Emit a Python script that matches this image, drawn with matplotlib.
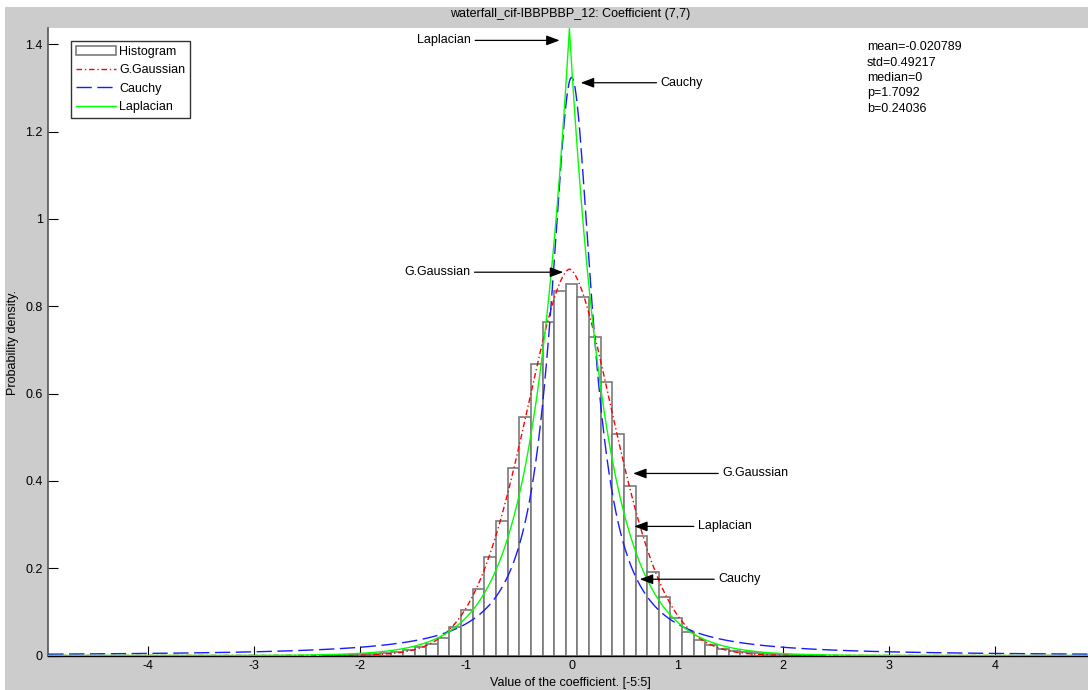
import numpy as np
import matplotlib
matplotlib.use("Agg")
import matplotlib.pyplot as plt
from matplotlib.patches import Rectangle
from math import gamma, sqrt, pi

plt.rcParams['font.family'] = ['Liberation Sans', 'DejaVu Sans']

# ---- data -------------------------------------------------------------
title = "waterfall_cif-IBBPBBP_12: Coefficient (7,7)"
x_label = "Value of the coefficient. [-5:5]"
y_label = "Probability density."

# sample statistics and fitted parameters
MEAN = -0.020789
STD = 0.49217
MEDIAN = 0
P_SHAPE = 1.7092
B_SCALE = 0.24036

# histogram: 91 bins over [-5, 5], only the non-empty ones listed
N_BINS = 91
hist_k = list(range(-21, 22))
hist_heights = [
    0.0005, 0.001, 0.002, 0.003, 0.0045, 0.006, 0.0085, 0.0115, 0.0185, 0.026,
    0.039, 0.065, 0.105, 0.153, 0.225, 0.309, 0.429, 0.546, 0.668, 0.765,
    0.834, 0.852, 0.822, 0.730, 0.627, 0.508, 0.388, 0.274, 0.192, 0.135,
    0.086, 0.054, 0.036, 0.0235, 0.0144, 0.0095, 0.0075, 0.0058, 0.004, 0.003,
    0.002, 0.001, 0.0005,
]

x_ticks = [-4, -3, -2, -1, 0, 1, 2, 3, 4]
y_ticks = [0, 0.2, 0.4, 0.6, 0.8, 1.0, 1.2, 1.4]

# annotation labels: (text, arrow tip (x, y), text anchor x, side)
annotations = [
    ("Laplacian", (-0.113, 1.409), -0.950, "left"),
    ("Cauchy", (0.086, 1.312), 0.842, "right"),
    ("G.Gaussian", (-0.079, 0.878), -0.957, "left"),
    ("G.Gaussian", (0.581, 0.417), 1.425, "right"),
    ("Laplacian", (0.591, 0.2957), 1.194, "right"),
    ("Cauchy", (0.644, 0.1747), 1.387, "right"),
]

# ---- fitted densities --------------------------------------------------
X_HALF = 5 - 5 / N_BINS
xs = np.linspace(-X_HALF, X_HALF, 4001)
xs = np.sort(np.append(xs, [MEAN, MEDIAN]))

gg_a = STD * sqrt(gamma(1 / P_SHAPE) / gamma(3 / P_SHAPE))
gg_pdf = P_SHAPE / (2 * gg_a * gamma(1 / P_SHAPE)) * np.exp(-(np.abs(xs - MEAN) / gg_a) ** P_SHAPE)
cauchy_pdf = 1.0 / (pi * B_SCALE * (1 + ((xs - MEDIAN) / B_SCALE) ** 2))
lap_b = STD / sqrt(2)
lap_pdf = np.exp(-np.abs(xs - MEAN) / lap_b) / (2 * lap_b)

# ---- figure ------------------------------------------------------------
FS = 9
W, H = 1088, 690
fig = plt.figure(figsize=(W / 100, H / 100), dpi=100)
fig.patch.set_facecolor("white")
fig.add_artist(Rectangle((5 / W, 0), 1, 1 - 7 / H, transform=fig.transFigure,
                         facecolor="#cccccc", edgecolor="none", zorder=-10))

left_px, right_px, top_px, bottom_px = 48.3, 1094.9, 28.3, 655.5
ax = fig.add_axes([left_px / W, 1 - bottom_px / H,
                   (right_px - left_px) / W, (bottom_px - top_px) / H])
ax.set_facecolor("white")

bin_w = 10 / N_BINS
centres = [k * bin_w for k in hist_k]
bars = ax.bar(centres, hist_heights, width=bin_w, facecolor="white",
              edgecolor="#7a7a7a", linewidth=1.2, zorder=2, label="Histogram")

l_gg, = ax.plot(xs, gg_pdf, color="#ff0000", lw=1.0, dashes=(4, 2, 1, 2),
                zorder=3, label="G.Gaussian")
l_ca, = ax.plot(xs, cauchy_pdf, color="#1a1aff", lw=1.0, dashes=(11, 4),
                zorder=3, label="Cauchy")
l_la, = ax.plot(xs, lap_pdf, color="#00ff00", lw=1.0, zorder=4,
                label="Laplacian")

ax.set_xlim(-X_HALF, X_HALF)
ax.set_ylim(0, lap_pdf.max())

ax.set_xticks(x_ticks)
ax.set_xticklabels([f"{t:g}" for t in x_ticks])
ax.set_yticks(y_ticks)
ax.set_yticklabels([f"{t:g}" for t in y_ticks])
ax.tick_params(direction="in", length=7, width=0.8, labelsize=FS, pad=3,
               colors="black")
ax.tick_params(axis="y", pad=4)
for s in ("top", "right"):
    ax.spines[s].set_visible(False)
ax.spines["left"].set_color("#555555")
ax.spines["left"].set_linewidth(1.2)
ax.spines["bottom"].set_color("black")
ax.spines["bottom"].set_linewidth(1.0)

fig.text(570.5 / W, 1 - 14 / H, title, ha="center", va="center", fontsize=FS)
fig.text(570.5 / W, 1 - 683 / H, x_label, ha="center", va="center", fontsize=FS)
fig.text(13 / W, 1 - 343 / H, y_label, ha="center", va="center", fontsize=FS,
         rotation=90)

stats = [f"mean={MEAN:g}", f"std={STD:g}", f"median={MEDIAN:g}",
         f"p={P_SHAPE:g}", f"b={B_SCALE:g}"]
fig.text(867 / W, 1 - 41.5 / H, "\n".join(stats), ha="left", va="top",
         fontsize=FS, linespacing=1.37)

for text, tip, tx, side in annotations:
    ax.annotate(text, xy=tip, xytext=(tx, tip[1]), ha="right" if side == "left" else "left",
                va="center", fontsize=FS, zorder=6,
                arrowprops=dict(arrowstyle="-|>,head_length=0.8,head_width=0.3",
                                color="black", lw=0.9, shrinkA=1, shrinkB=0,
                                mutation_scale=10))

leg = ax.legend(handles=[bars, l_gg, l_ca, l_la], loc="upper left",
                bbox_to_anchor=(71 / W, 1 - 41 / H), bbox_transform=fig.transFigure,
                borderaxespad=0, fontsize=FS, frameon=True, fancybox=False,
                edgecolor="black", handlelength=3.2, handletextpad=0.25,
                labelspacing=0.52, borderpad=0.38)
leg.get_frame().set_linewidth(1.0)
leg.set_zorder(10)

fig.savefig("out.png", dpi=100, facecolor=fig.get_facecolor())
